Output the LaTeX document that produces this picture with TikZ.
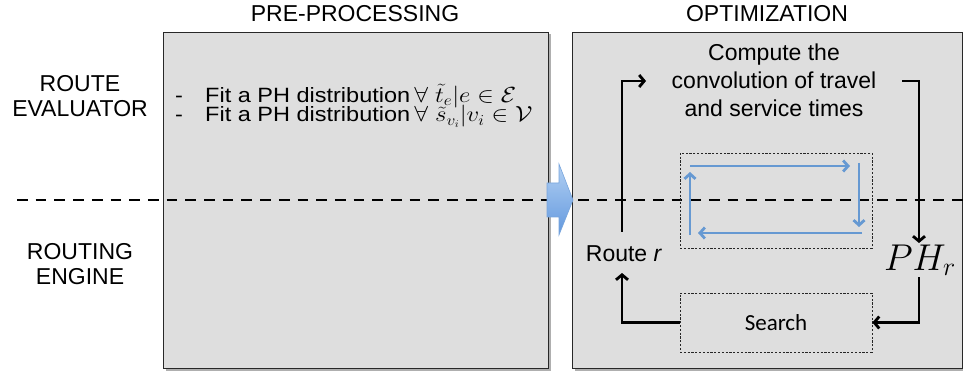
\documentclass[tikz,border=0pt]{standalone}
\usepackage{graphicx}
\usepackage{fontspec}
\setmainfont{Liberation Sans}
\newfontfamily\calibrifont{Carlito}
\usetikzlibrary{arrows.meta}

\definecolor{panelgray}{RGB}{222,222,222}
\definecolor{paneledge}{RGB}{40,40,40}
\definecolor{panelshade}{RGB}{175,175,175}
\definecolor{cycleblue}{RGB}{102,153,210}
\definecolor{blocktop}{RGB}{178,208,243}
\definecolor{blockbot}{RGB}{98,152,222}
\definecolor{blockedge}{RGB}{120,165,220}

% a line of the pre-processing list, slightly condensed in height
\newcommand{\fitline}[1]{\scalebox{1}[0.88]{\makebox[30pt][l]{-}Fit a PH distribution$\,\forall\;#1$}}

\tikzset{
  panel/.style={draw=paneledge, line width=1.3pt, fill=panelgray, inner sep=0pt},
  panelshadow/.style={fill=panelshade, draw=none},
  divider/.style={line width=2.8pt, dash pattern=on 10.7pt off 8pt},
  thinbox/.style={draw=black!85, dash pattern=on 2.2pt off 1.6pt, line width=0.8pt, inner sep=0pt},
  mainarrow/.style={line width=2.8pt, -{Straight Barb[length=5pt,width=12pt]}},
  cyclearrow/.style={draw=cycleblue, line width=2.8pt, -{Straight Barb[length=5pt,width=11pt]}},
  bigtext/.style={font=\fontsize{23}{25}\selectfont, inner sep=0pt, align=center},
  bodytext/.style={font=\fontsize{23.5}{26}\selectfont, inner sep=0pt, anchor=base west},
}

\begin{document}
\begin{tikzpicture}[x=1pt, y=-1pt]
  \useasboundingbox (0,0) rectangle (963,371);

  % two panels with a soft drop shadow
  \fill[panelshadow] (165.5,34.5) rectangle (550.5,370.5);
  \fill[panelshadow] (574.5,34.5) rectangle (965,370.5);
  \node[panel, minimum width=385pt, minimum height=336pt, anchor=north west] (leftbox) at (163,32) {};
  \node[panel, minimum width=390pt, minimum height=336pt, anchor=north west] (rightbox) at (572,32) {};

  % column headers
  \node[bigtext, anchor=base] (hdrpre) at (355,21.5) {PRE-PROCESSING};
  \node[bigtext, anchor=base] (hdropt) at (767,21.5) {OPTIMIZATION};

  % row labels
  \node[bigtext, anchor=north] (lblre) at (80,75.5) {ROUTE\\EVALUATOR};
  \node[bigtext, anchor=north] (lblrg) at (80,243.5) {ROUTING\\ENGINE};

  % separator between the two layers
  \coordinate (divL) at (17,200);
  \coordinate (divR) at (963,200);
  \draw[divider] (divL) -- (divR);

  % pre-processing steps
  \node[bodytext] (fitedges) at (175,102.5) {\fitline{\tilde{t}_e|e\in\mathcal{E}}};
  \node[bodytext] (fitnodes) at (175,122) {\fitline{\tilde{s}_{v_i}|v_i\in\mathcal{V}}};

  % optimization loop
  \node[bigtext, anchor=north, font=\fontsize{23}{28}\selectfont] (compute) at (774,44)
    {Compute the\\convolution of travel\\and service times};
  \node[thinbox, minimum width=192pt, minimum height=95pt] (innerbox) at (776,200.5) {};
  \node[thinbox, minimum width=192pt, minimum height=59pt,
        font=\calibrifont\fontsize{23}{25}\selectfont] (search) at (776,322.5) {Search};
  \node[inner sep=0pt, font=\fontsize{24}{28}\selectfont, anchor=base] (phr) at (920,270)
    {\scalebox{1.5}{$PH_r$}};
  \node[bigtext, anchor=base] (route) at (624,261.7) {Route \textit{r}};

  % blue evaluation cycle inside the inner box
  \coordinate (cA1) at (690,166); \coordinate (cA2) at (850,166);
  \coordinate (cB1) at (859,163); \coordinate (cB2) at (859,227);
  \coordinate (cC1) at (862,233); \coordinate (cC2) at (698,233);
  \coordinate (cD1) at (690,235); \coordinate (cD2) at (690,172);
  \draw[cyclearrow] (cA1) -- (cA2);
  \draw[cyclearrow] (cB1) -- (cB2);
  \draw[cyclearrow] (cC1) -- (cC2);
  \draw[cyclearrow] (cD1) -- (cD2);

  % black flow of the optimization loop
  \coordinate (routeTop) at (622,232);
  \coordinate (computeIn) at (646,81);
  \coordinate (computeOut) at (902,81);
  \coordinate (phrIn) at (919,243);
  \coordinate (phrOut) at (919,277);
  \coordinate (routeIn) at (622,273);
  \draw[mainarrow] (routeTop) |- (computeIn);
  \draw[mainarrow] (computeOut) -| (phrIn);
  \draw[mainarrow] (phrOut) |- (search.east);
  \draw[mainarrow] (search.west) -| (routeIn);

  % block arrow from pre-processing into optimization
  \shade[top color=blocktop, bottom color=blockbot, draw=blockedge, line width=0.6pt]
    (547,183) -- (559,183) -- (559,164) -- (573,200) -- (559,235) -- (559,217) -- (547,217) -- cycle;
\end{tikzpicture}
\end{document}
